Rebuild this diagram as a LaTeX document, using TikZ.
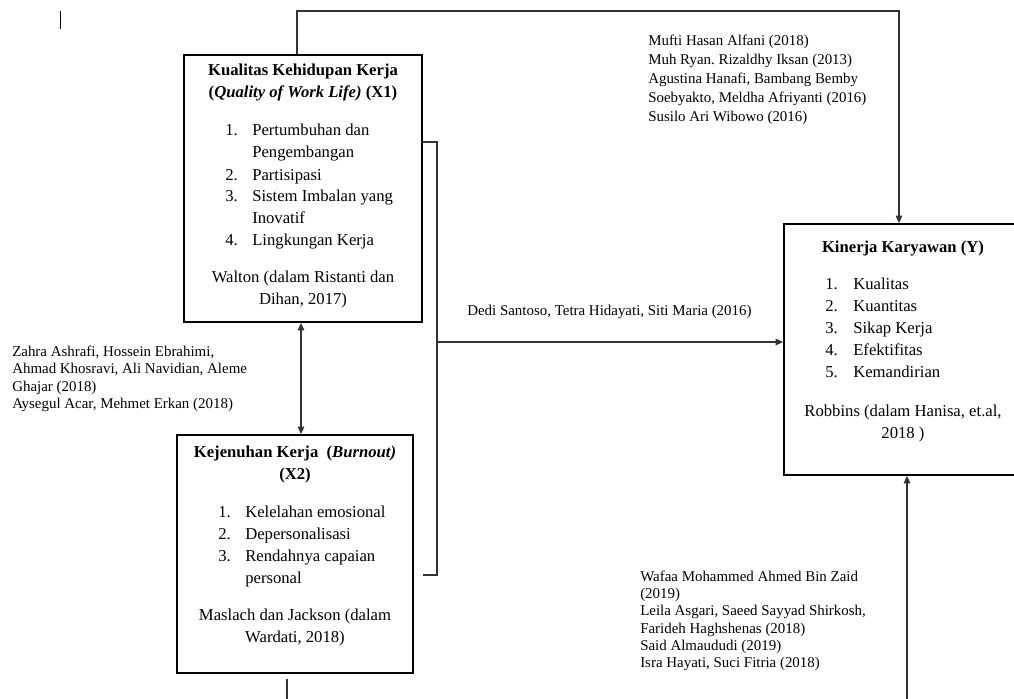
\documentclass[tikz,border=0pt]{standalone}
\usepackage{fontspec}
\setmainfont{Liberation Serif}
\usetikzlibrary{arrows.meta}
\frenchspacing

\begin{document}
\begin{tikzpicture}[
  x=0.75pt,y=-0.75pt,
  box/.style={draw,line width=1.5pt,inner sep=0pt},
  boxtext/.style={inner sep=0pt,font=\fontsize{12.5}{16.5}\selectfont},
  cite/.style={inner sep=0pt,anchor=base west,font=\fontsize{11.2}{13.1}\selectfont},
  link/.style={line width=0.8pt,black!80},
  flow/.style={link,-{Triangle[length=5.5pt,width=5pt]}},
  both/.style={link,{Triangle[length=5.5pt,width=5pt]}-{Triangle[length=5.5pt,width=5pt]}}
]
\useasboundingbox (0,0) rectangle (1014,699);
\clip (0,0) rectangle (1014,699);

\draw[line width=0.6pt] (60,11) -- (60,29);

\node[box,minimum width=178.5pt,minimum height=200.25pt] (x1) at (303,188.5) {};
\node[boxtext,anchor=base] (x1title) at (303,76)
  {\begin{tabular}[t]{@{}c@{}}\textbf{Kualitas Kehidupan Kerja}\\
   \textbf{(\textit{Quality of Work Life)} (X1)}\end{tabular}};
\node[boxtext,anchor=base west] (x1items) at (225,136)
  {\begin{tabular}[t]{@{}p{20.25pt}@{}l@{}}1. & Pertumbuhan dan\\ & Pengembangan\\
   2. & Partisipasi\\ 3. & Sistem Imbalan yang\\ & Inovatif\\ 4. & Lingkungan Kerja\end{tabular}};
\node[boxtext,anchor=base] (x1src) at (303,282)
  {\begin{tabular}[t]{@{}c@{}}Walton (dalam Ristanti dan\\ Dihan, 2017)\end{tabular}};

\node[box,minimum width=177pt,minimum height=178.5pt] (x2) at (295,554) {};
\node[boxtext,anchor=base] (x2title) at (295,457)
  {\begin{tabular}[t]{@{}c@{}}\textbf{Kejenuhan Kerja\ \ (\textit{Burnout)}}\\
   \textbf{(X2)}\end{tabular}};
\node[boxtext,anchor=base west] (x2items) at (218,517)
  {\begin{tabular}[t]{@{}p{20.25pt}@{}l@{}}1. & Kelelahan emosional\\ 2. & Depersonalisasi\\
   3. & Rendahnya capaian\\ & personal\end{tabular}};
\node[boxtext,anchor=base] (x2src) at (295,620)
  {\begin{tabular}[t]{@{}c@{}}Maslach dan Jackson (dalam\\ Wardati, 2018)\end{tabular}};

\node[box,minimum width=178.5pt,minimum height=188.25pt] (y) at (903,349.5) {};
\node[boxtext,anchor=base] (ytitle) at (903,252) {\textbf{Kinerja Karyawan (Y)}};
\node[boxtext,anchor=base west] (yitems) at (825,289)
  {\begin{tabular}[t]{@{}p{21pt}@{}l@{}}1. & Kualitas\\ 2. & Kuantitas\\ 3. & Sikap Kerja\\
   4. & Efektifitas\\ 5. & Kemandirian\end{tabular}};
\node[boxtext,anchor=base] (ysrc) at (903,416)
  {\begin{tabular}[t]{@{}c@{}}Robbins (dalam Hanisa, et.al,\\ 2018 )\end{tabular}};

\node[cite,font=\fontsize{11.2}{14.2}\selectfont] (citetop) at (648,45.5)
  {\begin{tabular}[t]{@{}l@{}}Mufti Hasan Alfani (2018)\\ Muh Ryan. Rizaldhy Iksan (2013)\\
   Agustina Hanafi, Bambang Bemby\\ Soebyakto, Meldha Afriyanti (2016)\\
   Susilo Ari Wibowo (2016)\end{tabular}};
\node[cite] (citeleft) at (12,356.5)
  {\begin{tabular}[t]{@{}l@{}}Zahra Ashrafi, Hossein Ebrahimi,\\ Ahmad Khosravi, Ali Navidian, Aleme\\
   Ghajar (2018)\\ Aysegul Acar, Mehmet Erkan (2018)\end{tabular}};
\node[cite,font=\fontsize{11.2}{12.9}\selectfont] (citebottom) at (640,581.5)
  {\begin{tabular}[t]{@{}l@{}}Wafaa Mohammed Ahmed Bin Zaid\\ (2019)\\
   Leila Asgari, Saeed Sayyad Shirkosh,\\ Farideh Haghshenas (2018)\\
   Said Almaududi (2019)\\ Isra Hayati, Suci Fitria (2018)\end{tabular}};
\node[cite] (citemid) at (467,315.5) {Dedi Santoso, Tetra Hidayati, Siti Maria (2016)};

\coordinate (topturn) at (297,11);
\draw[flow] (topturn |- x1.north) -- (topturn) -| ([xshift=-3pt]y.north);

\coordinate (brtop) at (437,142);
\coordinate (brmid) at (437,342);
\coordinate (brbot) at (437,575);
\draw[link] (brtop -| x1.east) -- (brtop) -- (brbot) -- (brbot -| x1.east);
\draw[flow] (brmid) -- (brmid -| y.west);

\coordinate (midaxis) at (301,380);
\draw[both] (midaxis |- x1.south) -- (midaxis |- x2.north);

\draw[link] ([xshift=-6pt,yshift=-3.75pt]x2.south) -- ++(0,21);

\coordinate (ybottom) at (907,699);
\draw[flow] (ybottom) -- (ybottom |- y.south);
\end{tikzpicture}
\end{document}
